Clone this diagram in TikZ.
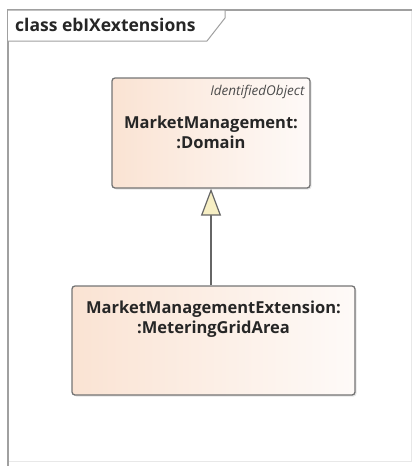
\documentclass[tikz,border=0pt]{standalone}
\usepackage{fontspec}
\setmainfont{Open Sans}
\usetikzlibrary{positioning, arrows.meta, shadows}
\definecolor{cPeach}{HTML}{FAE3D3}
\definecolor{cLight}{HTML}{FEFAF8}
\definecolor{cBorder}{HTML}{747474}
\definecolor{cFrame}{HTML}{A0A0A0}
\definecolor{cFaint}{HTML}{E8E8E8}
\definecolor{cTip}{HTML}{F7EFC4}

\begin{document}
\begin{tikzpicture}[
    x=1pt, y=-1pt,
    % --- Node styles ---
    cls/.style={
        draw=cBorder, line width=1.3pt, rounded corners=3pt,
        left color=cPeach, right color=cLight,
        drop shadow={shadow xshift=1.5pt, shadow yshift=-1.5pt, fill=black!20},
        inner sep=0pt
    },
    clsname/.style={font=\fontsize{16.5}{20}\selectfont\bfseries, align=center, text=black!85},
    stereo/.style={font=\fontsize{13.5}{15}\selectfont\itshape, text=black!70, inner sep=0pt},
    tabtext/.style={font=\fontsize{17.5}{20}\selectfont\bfseries, text=black!85, inner sep=0pt},
    % --- Arrow styles ---
    gen/.style={-{Triangle[open, width=20pt, length=27pt, fill=cTip]}, line width=1.2pt, draw=black!60},
]

% bounding box of the whole picture
\useasboundingbox (0,0) rectangle (412,466);

% =============================================
% DIAGRAM FRAME
% =============================================

\draw[cFaint, line width=1pt] (411,10) -- (411,461) -- (8,461);
\draw[cFrame, line width=2pt] (8,466) -- (8,10) -- (412,10);

% Frame tab
\draw[cFrame, line width=1pt, fill=white] (8,10) -- (225,10) -- (225,18) -- (207,41) -- (8,41);
\node[tabtext, anchor=west] (title) at (15,25) {class ebIXextensions};

% =============================================
% CLASSES
% =============================================

\node[cls, minimum width=198pt, minimum height=110pt] (dom) at (211,133) {};
\node[clsname] (domname) at (211,132) {MarketManagement:\\:Domain};
\node[stereo, below left=8pt and 6pt of dom.north east] (domstereo) {IdentifiedObject};

\node[cls, minimum width=283pt, minimum height=109pt] (ext) at (213.5,340.5) {};
\node[clsname, below=12pt of ext.north] (extname) {MarketManagementExtension:\\:MeteringGridArea};

% =============================================
% ARROWS
% =============================================

\draw[gen] (ext.north -| dom.south) -- (dom.south);

\end{tikzpicture}
\end{document}
